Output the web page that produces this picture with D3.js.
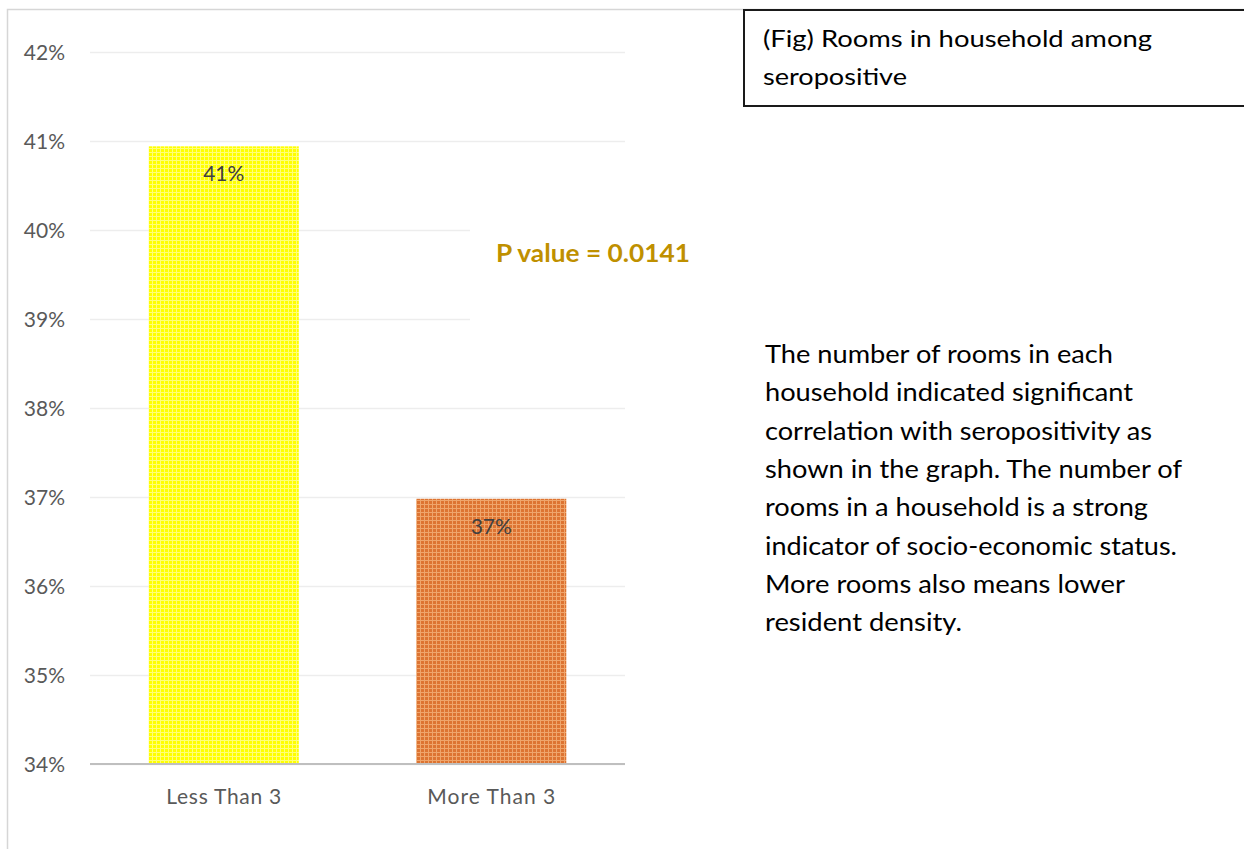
<!DOCTYPE html>
<html>
<head>
<meta charset="utf-8">
<script src="https://cdn.jsdelivr.net/npm/d3@7"></script>
<style>
  html, body { margin: 0; padding: 0; background: #ffffff; }
  svg { display: block; }
</style>
</head>
<body>
<svg id="chart" width="1244" height="849"></svg>
<script>
// ---- data ----
const categories = ["Less Than 3", "More Than 3"];
const values = [0.4094, 0.3698];
const valueLabels = ["41%", "37%"];
const yTicks = [0.34, 0.35, 0.36, 0.37, 0.38, 0.39, 0.40, 0.41, 0.42];
const pValueText = "P value = 0.0141";
const titleLines = ["(Fig) Rooms in household among", "seropositive"];
const descriptionLines = [
  "The number of rooms in each",
  "household indicated significant",
  "correlation with seropositivity as",
  "shown in the graph. The number of",
  "rooms in a household is a strong",
  "indicator of socio-economic status.",
  "More rooms also means lower",
  "resident density."
];
const descriptionWidths = [348, 368, 387, 417, 383, 412, 360, 197];
const categoryLabelWidths = [115, 128];

// ---- setup ----
const svg = d3.select("#chart");
const FONT = "Lato, 'Open Sans', sans-serif";

svg.append("rect").attr("width", 1244).attr("height", 849).attr("fill", "#ffffff");

const defs = svg.append("defs");
function makePattern(id, base, light) {
  const p = defs.append("pattern").attr("id", id)
    .attr("patternUnits", "userSpaceOnUse").attr("width", 4).attr("height", 4);
  p.append("rect").attr("width", 4).attr("height", 4).attr("fill", base);
  p.append("rect").attr("width", 4).attr("height", 1).attr("fill", light);
  p.append("rect").attr("width", 1).attr("height", 4).attr("fill", light);
}
makePattern("patYellow", "#FFFF00", "#FFFF78");
makePattern("patOrange", "#DD7432", "#EFA56C");
const fills = ["url(#patYellow)", "url(#patOrange)"];

// chart area border
svg.append("path")
  .attr("d", "M7.5,860 L7.5,9.5 L1260,9.5")
  .attr("fill", "none").attr("stroke", "#D6D6D6").attr("stroke-width", 1.5);

// scales
const plotLeft = 90, plotRight = 625, plotTop = 52, plotBottom = 764;
const y = d3.scaleLinear().domain([0.34, 0.42]).range([plotBottom, plotTop]);
const x = d3.scaleBand().domain(categories).range([plotLeft, plotRight])
  .paddingInner(0.439).paddingOuter(0.2195);

// gridlines
const grid = svg.append("g").attr("transform", `translate(${plotLeft},0)`)
  .call(d3.axisLeft(y).tickValues(yTicks).tickSize(-(plotRight - plotLeft)).tickFormat(""));
grid.select(".domain").remove();
grid.selectAll(".tick line").attr("stroke", "#EDEDED").attr("stroke-width", 1.5);

// y tick labels
const yLab = svg.append("g").attr("transform", "translate(65,0)")
  .call(d3.axisLeft(y).tickValues(yTicks).tickSize(0).tickPadding(0).tickFormat(d3.format(".0%")));
yLab.select(".domain").remove();
yLab.selectAll(".tick text")
  .attr("font-family", FONT).attr("font-size", 21).attr("fill", "#595959")
  .attr("dy", "0.36em");

// white box behind p-value annotation
svg.append("rect").attr("x", 470).attr("y", 160).attr("width", 240).attr("height", 166)
  .attr("fill", "#ffffff");

// bars
svg.selectAll("rect.bar").data(values).enter().append("rect")
  .attr("class", "bar")
  .attr("x", (d, i) => x(categories[i]))
  .attr("width", x.bandwidth())
  .attr("y", d => y(d))
  .attr("height", d => y(0.34) - y(d))
  .attr("fill", (d, i) => fills[i]);

// x axis baseline
const xAxis = svg.append("g").attr("transform", `translate(0,${plotBottom})`)
  .call(d3.axisBottom(x).tickSize(0).tickPadding(0));
xAxis.select(".domain").attr("stroke", "#BFBFBF").attr("stroke-width", 2)
  .attr("d", `M${plotLeft},0H${plotRight}`);
xAxis.selectAll(".tick text")
  .attr("font-family", FONT).attr("font-size", 21).attr("fill", "#595959")
  .attr("y", 40).attr("dy", 0)
  .attr("textLength", (d, i) => categoryLabelWidths[i])
  .attr("lengthAdjust", "spacing");

// data labels
svg.selectAll("text.vlabel").data(values).enter().append("text")
  .attr("class", "vlabel")
  .attr("x", (d, i) => x(categories[i]) + x.bandwidth() / 2)
  .attr("y", d => y(d) + 35)
  .attr("text-anchor", "middle")
  .attr("font-family", FONT).attr("font-size", 21).attr("fill", "#404040")
  .text((d, i) => valueLabels[i]);

// p-value annotation
svg.append("text")
  .attr("x", 496).attr("y", 262)
  .attr("font-family", FONT).attr("font-size", 25).attr("font-weight", "bold")
  .attr("fill", "#BF9000")
  .attr("textLength", 194).attr("lengthAdjust", "spacingAndGlyphs")
  .text(pValueText);

// title box
svg.append("rect").attr("x", 744).attr("y", 10).attr("width", 560).attr("height", 96)
  .attr("fill", "#ffffff").attr("stroke", "#1a1a1a").attr("stroke-width", 2);
const titleWidths = [389, 144];
svg.selectAll("text.title").data(titleLines).enter().append("text")
  .attr("class", "title")
  .attr("x", 763).attr("y", (d, i) => 47 + i * 38)
  .attr("font-family", FONT).attr("font-size", 24).attr("fill", "#000000")
  .attr("textLength", (d, i) => titleWidths[i]).attr("lengthAdjust", "spacingAndGlyphs")
  .text(d => d);

// description paragraph
svg.selectAll("text.desc").data(descriptionLines).enter().append("text")
  .attr("class", "desc")
  .attr("x", 765).attr("y", (d, i) => 363 + i * 38.3)
  .attr("font-family", FONT).attr("font-size", 25).attr("fill", "#000000")
  .attr("textLength", (d, i) => descriptionWidths[i]).attr("lengthAdjust", "spacingAndGlyphs")
  .text(d => d);
</script>
</body>
</html>
